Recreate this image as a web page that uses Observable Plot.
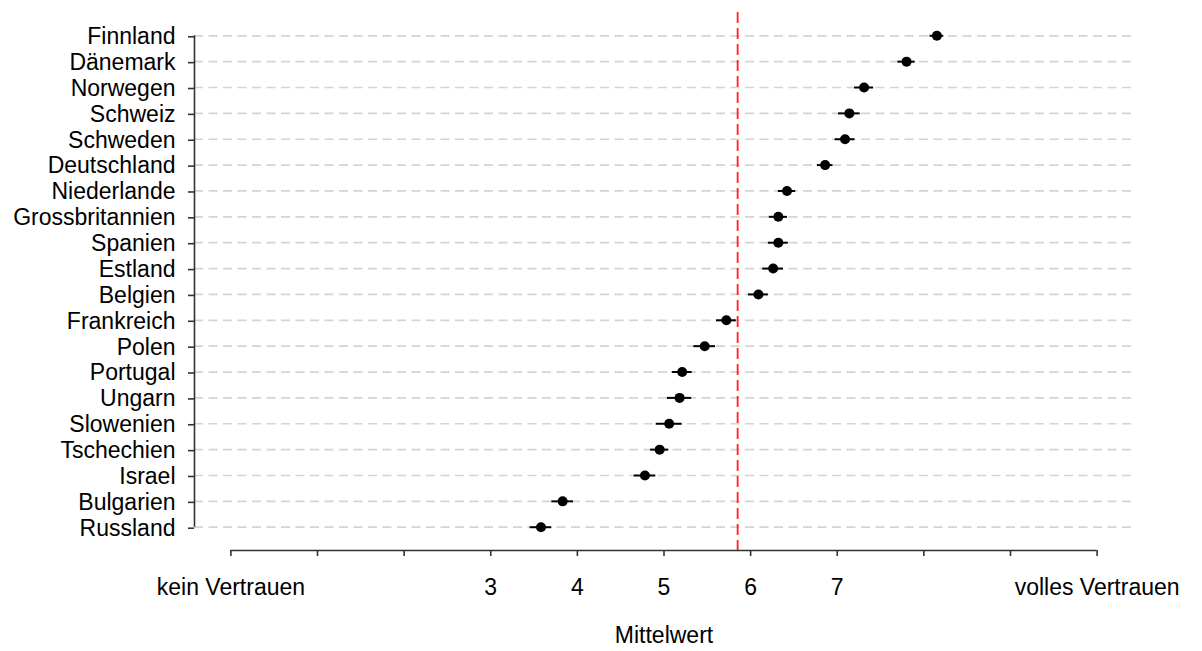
<!DOCTYPE html>
<html>
<head>
<meta charset="utf-8">
<script src="https://cdn.jsdelivr.net/npm/d3@7"></script>
<script src="https://cdn.jsdelivr.net/npm/@observablehq/plot@0.6"></script>
<style>
  body { margin: 0; background: #fff; }
</style>
</head>
<body>
<div id="chart"></div>
<script>
// Countries from top to bottom, with mean trust and half-width of the interval
const countries = [
  "Finnland", "Dänemark", "Norwegen", "Schweiz", "Schweden", "Deutschland",
  "Niederlande", "Grossbritannien", "Spanien", "Estland", "Belgien", "Frankreich",
  "Polen", "Portugal", "Ungarn", "Slowenien", "Tschechien", "Israel",
  "Bulgarien", "Russland"
];
const means = [
  8.15, 7.80, 7.31, 7.14, 7.09, 6.86,
  6.42, 6.32, 6.32, 6.26, 6.09, 5.72,
  5.47, 5.21, 5.18, 5.06, 4.95, 4.78,
  3.83, 3.58
];
const halfWidths = [
  0.08, 0.10, 0.11, 0.125, 0.115, 0.09,
  0.10, 0.105, 0.115, 0.12, 0.115, 0.115,
  0.125, 0.115, 0.14, 0.15, 0.105, 0.125,
  0.125, 0.125
];
const overallMean = 5.85;

const xTicks = [0, 1, 2, 3, 4, 5, 6, 7, 8, 9, 10];
const xTickLabels = ["kein Vertrauen", "", "", "3", "4", "5", "6", "7", "", "", "volles Vertrauen"];
const xTitle = "Mittelwert";

// Rows are ranked bottom-up so the first country sits at the top
const n = countries.length;
const rows = countries.map((country, i) => ({
  country,
  rank: n - i,
  mean: means[i],
  lo: means[i] - halfWidths[i],
  hi: means[i] + halfWidths[i]
}));
const ranks = rows.map(d => d.rank);
const xLim = [-0.42, 10.42];
const yLim = [0.1, n + 0.9];

const axisColor = "#333";
const font = "'Liberation Sans', Arial, sans-serif";

const chart = Plot.plot({
  width: 1202,
  height: 651,
  marginLeft: 194,
  marginRight: 69,
  marginTop: 12,
  marginBottom: 101,
  x: { domain: xLim },
  y: { domain: yLim },
  style: { fontFamily: font, fontSize: "23px", color: "#000", background: "#fff", overflow: "visible" },
  marks: [
    // dashed row guides
    Plot.ruleY(ranks, { stroke: "#d4d4d4", strokeWidth: 1.7, strokeDasharray: "9,5.5" }),
    // overall mean
    Plot.ruleX([overallMean], { stroke: "#ff2020", strokeWidth: 1.8, strokeDasharray: "11,5" }),
    // intervals and means
    Plot.ruleY(rows, { y: "rank", x1: "lo", x2: "hi", stroke: "#000", strokeWidth: 2 }),
    Plot.dot(rows, { x: "mean", y: "rank", r: 5, fill: "#000", stroke: null }),
    // y axis
    Plot.ruleX([xLim[0]], { y1: d3.min(ranks), y2: d3.max(ranks), stroke: axisColor, strokeWidth: 1.6 }),
    Plot.axisY({
      ticks: ranks,
      tickFormat: r => countries[n - r],
      tickSize: 6,
      tickPadding: 13,
      stroke: axisColor,
      strokeWidth: 1.6,
      fill: "#000",
      fontSize: 23,
      dy: 1,
      label: null
    }),
    // x axis
    Plot.ruleY([yLim[0]], { x1: d3.min(xTicks), x2: d3.max(xTicks), stroke: axisColor, strokeWidth: 1.6 }),
    Plot.axisX({
      ticks: xTicks,
      tickFormat: d => xTickLabels[xTicks.indexOf(d)],
      tickSize: 6,
      tickPadding: 22,
      stroke: axisColor,
      strokeWidth: 1.6,
      fill: "#000",
      fontSize: 23,
      label: null
    }),
    Plot.text([xTitle], { x: 5, frameAnchor: "bottom", dy: 92, fontSize: 23, fill: "#000" })
  ]
});

document.getElementById("chart").appendChild(chart);
</script>
</body>
</html>
